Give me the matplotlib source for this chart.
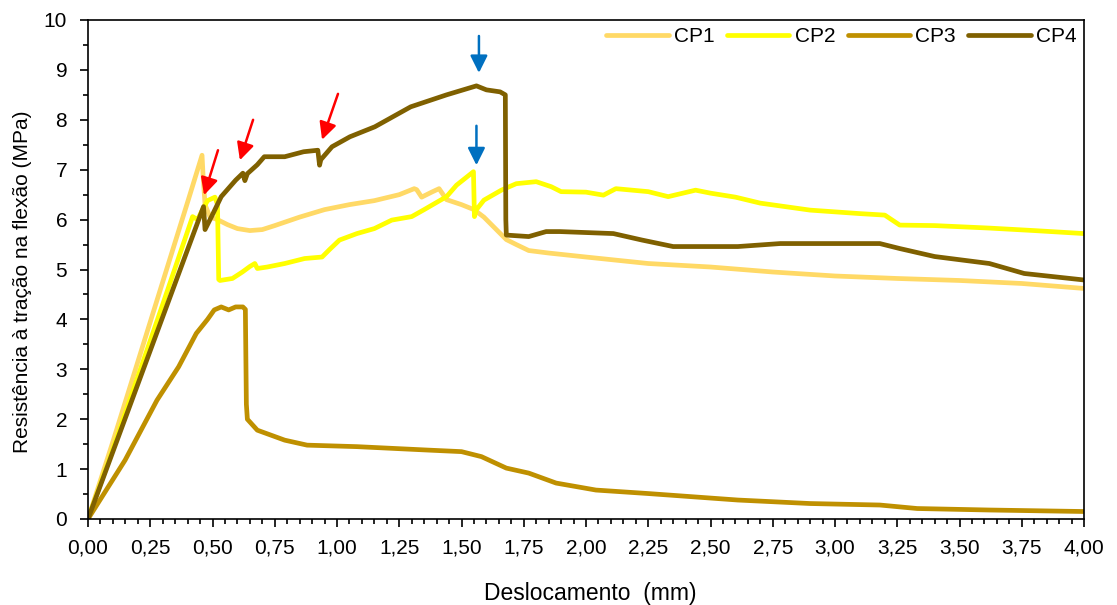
import matplotlib
matplotlib.use("Agg")
import matplotlib.pyplot as plt
from matplotlib.ticker import MultipleLocator, FuncFormatter

plt.rcParams['font.family'] = ['Liberation Sans', 'DejaVu Sans']

# CP1
x1 = [0, 0.10, 0.20, 0.30, 0.40, 0.458, 0.462, 0.47, 0.49, 0.52, 0.56, 0.60, 0.65, 0.70, 0.75,
      0.85, 0.95, 1.05, 1.15, 1.25, 1.31, 1.32, 1.34, 1.38, 1.41, 1.44, 1.50, 1.55, 1.59, 1.64,
      1.68, 1.72, 1.77, 1.85, 2.0, 2.25, 2.5, 2.75, 3.0, 3.25, 3.5, 3.75, 4.0]
y1 = [0, 1.55, 3.15, 4.75, 6.35, 7.29, 6.9, 6.3, 6.05, 6.0, 5.9, 5.82, 5.78, 5.8, 5.88,
      6.05, 6.2, 6.3, 6.38, 6.5, 6.62, 6.6, 6.45, 6.55, 6.62, 6.4, 6.3, 6.2, 6.05, 5.8,
      5.6, 5.5, 5.38, 5.33, 5.25, 5.12, 5.05, 4.95, 4.87, 4.82, 4.78, 4.72, 4.62]

# CP2
x2 = [0, 0.10, 0.20, 0.30, 0.42, 0.44, 0.46, 0.48, 0.51, 0.52, 0.525, 0.53, 0.58, 0.62, 0.65,
      0.67, 0.68, 0.72, 0.79, 0.87, 0.94, 0.97, 1.01, 1.08, 1.15, 1.22, 1.30, 1.35, 1.44, 1.48,
      1.548, 1.552, 1.56, 1.59, 1.66, 1.72, 1.80, 1.86, 1.90, 2.00, 2.07, 2.12, 2.25, 2.33, 2.44,
      2.50, 2.60, 2.70, 2.90, 3.10, 3.20, 3.26, 3.40, 3.62, 3.80, 4.0]
y2 = [0, 1.4, 2.85, 4.3, 6.06, 6.0, 6.2, 6.38, 6.45, 6.3, 4.8, 4.78, 4.82, 4.95, 5.06,
      5.12, 5.02, 5.05, 5.12, 5.22, 5.25, 5.4, 5.59, 5.72, 5.82, 5.99, 6.06, 6.2, 6.46, 6.69,
      6.96, 6.06, 6.2, 6.39, 6.59, 6.72, 6.76, 6.66, 6.56, 6.55, 6.49, 6.62, 6.56, 6.46, 6.59,
      6.53, 6.45, 6.33, 6.19, 6.12, 6.09, 5.89, 5.88, 5.83, 5.78, 5.72]

# CP3
x3 = [0, 0.149, 0.277, 0.364, 0.435, 0.48, 0.507, 0.535, 0.565, 0.593, 0.622, 0.632, 0.636, 0.64,
      0.68, 0.79, 0.88, 1.08, 1.37, 1.5, 1.58, 1.68, 1.77, 1.88, 2.04, 2.25, 2.61, 2.9, 3.18,
      3.33, 3.62, 4.0]
y3 = [0, 1.18, 2.38, 3.05, 3.72, 4.0, 4.19, 4.25, 4.19, 4.25, 4.25, 4.2, 2.3, 2.0,
      1.78, 1.58, 1.48, 1.45, 1.38, 1.35, 1.25, 1.02, 0.92, 0.72, 0.58, 0.51, 0.38, 0.31, 0.28,
      0.21, 0.18, 0.15]

# CP4
x4 = [0, 0.10, 0.20, 0.30, 0.40, 0.464, 0.47, 0.50, 0.535, 0.593, 0.622, 0.63, 0.64, 0.68, 0.708,
      0.79, 0.866, 0.923, 0.93, 0.935, 0.98, 1.052, 1.152, 1.296, 1.44, 1.56, 1.60, 1.655, 1.676,
      1.678, 1.68, 1.77, 1.84, 1.895, 2.11, 2.225, 2.35, 2.61, 2.78, 3.18, 3.26, 3.40, 3.62,
      3.76, 4.0]
y4 = [0, 1.35, 2.7, 4.05, 5.4, 6.26, 5.8, 6.1, 6.46, 6.79, 6.93, 6.78, 6.92, 7.1, 7.26,
      7.26, 7.36, 7.39, 7.09, 7.2, 7.46, 7.66, 7.86, 8.26, 8.5, 8.68, 8.6, 8.56, 8.5,
      6.0, 5.69, 5.66, 5.76, 5.76, 5.72, 5.59, 5.46, 5.46, 5.52, 5.52, 5.42, 5.26, 5.12,
      4.92, 4.79]

labels = ['CP1', 'CP2', 'CP3', 'CP4']
colors = ['#FFD966', '#FFFF00', '#BF9000', '#7F6000']

# arrows: (tail, head)
red_tails = [(0.522, 7.39), (0.663, 8.0), (1.004, 8.52)]
red_heads = [(0.466, 6.49), (0.61, 7.19), (0.94, 7.6)]
blue_tails = [(1.57, 9.68), (1.56, 7.88)]
blue_heads = [(1.57, 8.94), (1.56, 7.09)]

fig = plt.figure(figsize=(11.17, 6.05), dpi=100)
ax = fig.add_axes([88 / 1117, 1 - 519 / 605, (1084 - 88) / 1117, (519 - 20) / 605])

for xs, ys, lab, c in zip([x1, x2, x3, x4], [y1, y2, y3, y4], labels, colors):
    ax.plot(xs, ys, color=c, lw=3.4, label=lab, solid_joinstyle='round', solid_capstyle='round')

for t, h in zip(red_tails, red_heads):
    ax.annotate('', xy=h, xytext=t,
                arrowprops=dict(arrowstyle='-|>', color='#FF0000', lw=1.8, mutation_scale=26, shrinkA=0, shrinkB=0))
for t, h in zip(blue_tails, blue_heads):
    ax.annotate('', xy=h, xytext=t,
                arrowprops=dict(arrowstyle='-|>', color='#0070C0', lw=1.8, mutation_scale=26, shrinkA=0, shrinkB=0))

ax.set_xlim(0, 4)
ax.set_ylim(0, 10)
ax.xaxis.set_major_locator(MultipleLocator(0.25))
ax.xaxis.set_minor_locator(MultipleLocator(0.05))
ax.yaxis.set_major_locator(MultipleLocator(1))
ax.yaxis.set_minor_locator(MultipleLocator(0.5))
ax.xaxis.set_major_formatter(FuncFormatter(lambda v, p: ('%.2f' % v).replace('.', ',')))
ax.tick_params(which='major', direction='out', length=6, width=1.2, labelsize=15)
ax.tick_params(axis='x', which='major', pad=8)
ax.tick_params(axis='y', which='major', pad=9)
ax.tick_params(which='minor', direction='out', length=3.5, width=1.2)
for s in ax.spines.values():
    s.set_linewidth(1.2)

ax.set_xlabel('Deslocamento  (mm)', fontsize=16.5)
ax.xaxis.set_label_coords(0.504, -0.127)
ax.set_ylabel('Resistência à tração na flexão (MPa)', fontsize=15)
ax.yaxis.set_label_coords(-0.056, 0.475)

ax.legend(loc='upper right', ncol=4, frameon=False, fontsize=15, handlelength=3.0,
          handletextpad=0.25, columnspacing=0.6, borderaxespad=0.25, borderpad=0.1)

fig.savefig('out.png', dpi=100)
